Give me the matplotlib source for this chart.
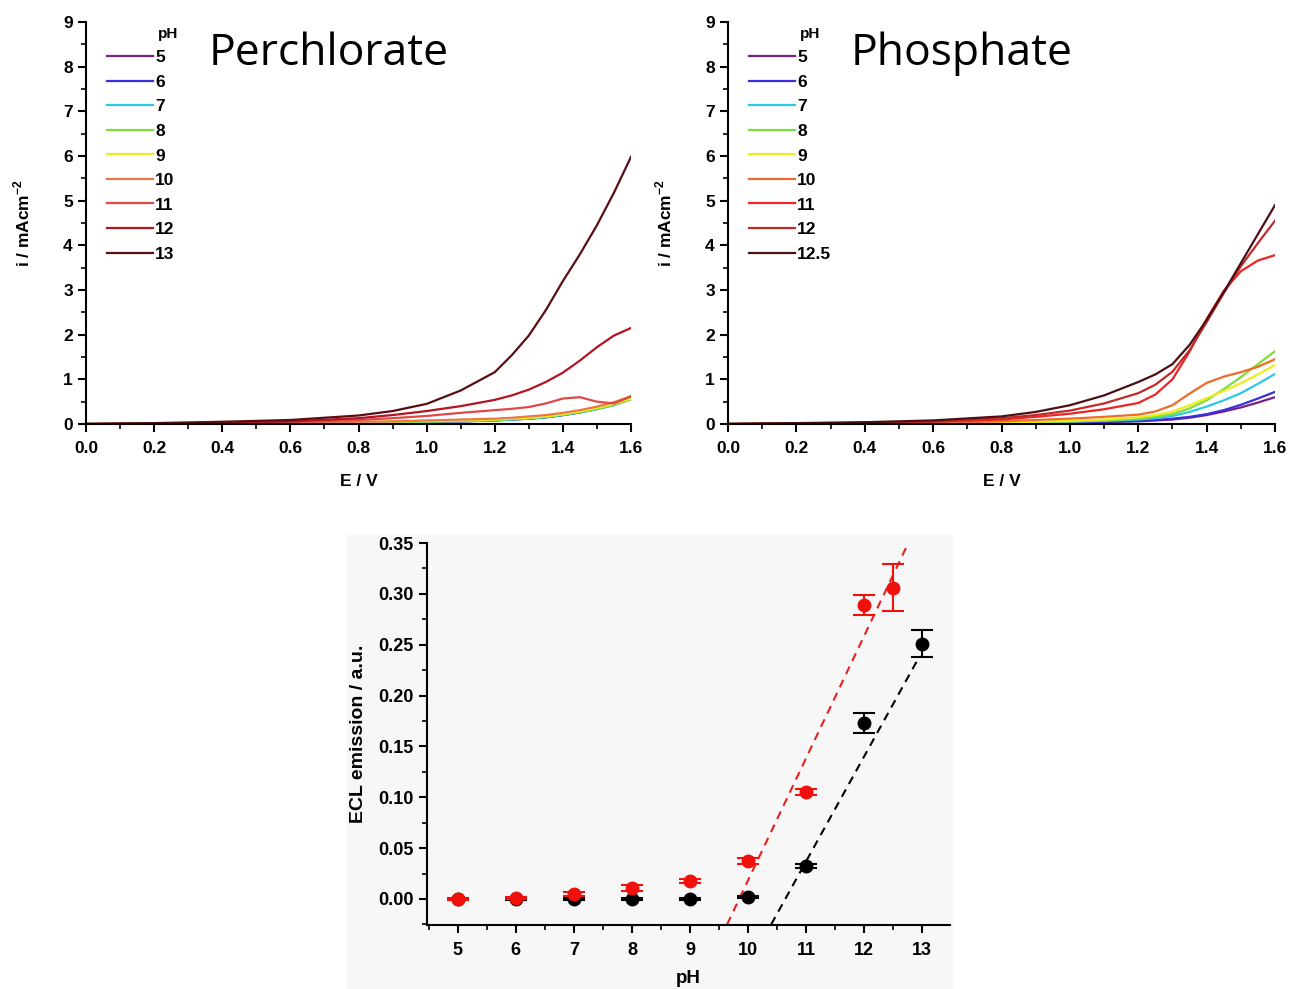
import matplotlib
matplotlib.use("Agg")
import matplotlib.pyplot as plt
from matplotlib.patches import Rectangle
from matplotlib.ticker import MultipleLocator, FormatStrFormatter

plt.rcParams['font.family'] = ['Liberation Sans', 'DejaVu Sans']
plt.rcParams['font.weight'] = 'bold'
plt.rcParams['mathtext.fontset'] = 'custom'
plt.rcParams['mathtext.bf'] = 'Liberation Sans:bold'
plt.rcParams['mathtext.rm'] = 'Liberation Sans:bold'

# potential grid (V) for the voltammograms
E = [0, 0.2, 0.4, 0.6, 0.8, 0.9, 1.0, 1.1, 1.2, 1.25, 1.3, 1.35, 1.4, 1.45, 1.5, 1.55, 1.6]

# perchlorate, current density (mA cm-2)
perc_labels = ['5', '6', '7', '8', '9', '10', '11', '12', '13']
perc_colors = ['#7a1f86', '#3a2fd8', '#2cc8e6', '#7ade3c', '#ecec1e', '#e87a48', '#e04848', '#b41420', '#5a0e14']
perc_5 = [0, 0, 0.01, 0.015, 0.025, 0.035, 0.045, 0.06, 0.08, 0.1, 0.12, 0.15, 0.2, 0.26, 0.34, 0.44, 0.58]
perc_6 = [0, 0, 0.01, 0.015, 0.025, 0.035, 0.045, 0.06, 0.08, 0.1, 0.12, 0.15, 0.2, 0.26, 0.34, 0.43, 0.57]
perc_7 = [0, 0.005, 0.01, 0.015, 0.03, 0.04, 0.05, 0.06, 0.08, 0.1, 0.12, 0.15, 0.2, 0.26, 0.33, 0.42, 0.56]
perc_8 = [0, 0.005, 0.01, 0.02, 0.03, 0.04, 0.05, 0.07, 0.09, 0.11, 0.13, 0.16, 0.21, 0.27, 0.34, 0.43, 0.55]
perc_9 = [0, 0.005, 0.01, 0.02, 0.04, 0.05, 0.07, 0.08, 0.1, 0.12, 0.14, 0.17, 0.22, 0.28, 0.36, 0.45, 0.57]
perc_10 = [0, 0.01, 0.02, 0.03, 0.05, 0.06, 0.08, 0.1, 0.12, 0.14, 0.17, 0.2, 0.25, 0.31, 0.39, 0.49, 0.62]
perc_11 = [0, 0.01, 0.02, 0.04, 0.09, 0.13, 0.18, 0.25, 0.31, 0.34, 0.38, 0.46, 0.57, 0.6, 0.5, 0.46, 0.62]
perc_12 = [0, 0.01, 0.03, 0.06, 0.13, 0.2, 0.29, 0.4, 0.54, 0.64, 0.77, 0.94, 1.15, 1.42, 1.72, 1.98, 2.15]
perc_13 = [0, 0.02, 0.05, 0.09, 0.19, 0.29, 0.45, 0.75, 1.16, 1.54, 1.98, 2.55, 3.2, 3.8, 4.45, 5.18, 5.98]
perc_curves = [perc_5, perc_6, perc_7, perc_8, perc_9, perc_10, perc_11, perc_12, perc_13]

# phosphate
phos_labels = ['5', '6', '7', '8', '9', '10', '11', '12', '12.5']
phos_colors = ['#7a1f86', '#3a2fd8', '#2cc8e6', '#7ade3c', '#ecec1e', '#f06a2a', '#ee2424', '#c02a2a', '#4a1014']
phos_5 = [0, 0, 0.005, 0.01, 0.02, 0.03, 0.035, 0.045, 0.06, 0.08, 0.1, 0.14, 0.2, 0.28, 0.37, 0.48, 0.6]
phos_6 = [0, 0, 0.005, 0.01, 0.02, 0.03, 0.04, 0.05, 0.07, 0.09, 0.12, 0.16, 0.22, 0.31, 0.43, 0.57, 0.72]
phos_7 = [0, 0.005, 0.01, 0.015, 0.03, 0.04, 0.05, 0.07, 0.1, 0.13, 0.18, 0.27, 0.39, 0.53, 0.69, 0.9, 1.12]
phos_8 = [0, 0.005, 0.01, 0.02, 0.03, 0.04, 0.06, 0.08, 0.12, 0.16, 0.22, 0.35, 0.53, 0.78, 1.05, 1.34, 1.63]
phos_9 = [0, 0.005, 0.01, 0.02, 0.04, 0.05, 0.07, 0.1, 0.15, 0.2, 0.28, 0.42, 0.58, 0.74, 0.91, 1.11, 1.32]
phos_10 = [0, 0.01, 0.02, 0.03, 0.06, 0.09, 0.12, 0.16, 0.21, 0.28, 0.42, 0.68, 0.92, 1.06, 1.16, 1.28, 1.45]
phos_11 = [0, 0.01, 0.02, 0.05, 0.1, 0.16, 0.23, 0.33, 0.47, 0.66, 1.0, 1.62, 2.35, 2.98, 3.42, 3.66, 3.78]
phos_12 = [0, 0.015, 0.03, 0.06, 0.13, 0.2, 0.3, 0.46, 0.69, 0.88, 1.17, 1.65, 2.28, 2.93, 3.53, 4.05, 4.55]
phos_125 = [0, 0.02, 0.04, 0.08, 0.17, 0.27, 0.42, 0.64, 0.94, 1.11, 1.34, 1.77, 2.33, 2.95, 3.6, 4.25, 4.9]
phos_curves = [phos_5, phos_6, phos_7, phos_8, phos_9, phos_10, phos_11, phos_12, phos_125]

# ECL emission vs pH
red_ph = [5, 6, 7, 8, 9, 10, 11, 12, 12.5]
red_ecl = [0.000, 0.001, 0.005, 0.011, 0.018, 0.037, 0.105, 0.289, 0.306]
red_err = [0.001, 0.001, 0.002, 0.003, 0.002, 0.003, 0.003, 0.010, 0.023]
black_ph = [5, 6, 7, 8, 9, 10, 11, 12, 13]
black_ecl = [0.000, 0.000, 0.000, 0.000, 0.000, 0.002, 0.032, 0.173, 0.251]
black_err = [0.001, 0.001, 0.001, 0.001, 0.001, 0.001, 0.002, 0.010, 0.013]
# linear fit lines (end points)
red_fit_x = [9.64, 12.72]
red_fit_y = [-0.025, 0.345]
black_fit_x = [10.40, 12.93]
black_fit_y = [-0.025, 0.236]

W, H = 1292, 989
fig = plt.figure(figsize=(W / 100, H / 100), dpi=100)

# faint grey background behind the bottom panel
fig.patches.append(Rectangle((347 / W, 0), (952 - 347) / W, 1 - 535 / H,
                             transform=fig.transFigure, color='#f7f7f7', zorder=-10))


def style_axes(ax, size=12.5):
    for s in ['top', 'right']:
        ax.spines[s].set_visible(False)
    for s in ['left', 'bottom']:
        ax.spines[s].set_linewidth(1.5)
    ax.tick_params(which='major', direction='out', length=6, width=1.5, labelsize=size)
    ax.tick_params(which='minor', direction='out', length=3.5, width=1.2)
    for lab in ax.get_xticklabels() + ax.get_yticklabels():
        lab.set_fontweight('bold')


def cv_panel(rect, curves, labels, colors, title):
    ax = fig.add_axes(rect)
    ax.patch.set_alpha(0)
    handles = []
    for y, lab, c in zip(curves, labels, colors):
        h, = ax.plot(E, y, color=c, lw=1.6, label=lab)
        handles.append(h)
    ax.set_xlim(0, 1.6)
    ax.set_ylim(0, 9)
    ax.xaxis.set_major_locator(MultipleLocator(0.2))
    ax.xaxis.set_minor_locator(MultipleLocator(0.1))
    ax.yaxis.set_major_locator(MultipleLocator(1))
    ax.yaxis.set_minor_locator(MultipleLocator(0.5))
    ax.xaxis.set_major_formatter(FormatStrFormatter('%.1f'))
    style_axes(ax)
    ax.tick_params(axis='x', which='major', pad=6)
    ax.set_xlabel('E / V', fontsize=12.5, fontweight='bold', labelpad=13)
    ax.set_ylabel(r'i / mAcm$^{\mathbf{-2}}$', fontsize=12.5, fontweight='bold', labelpad=22)
    leg = ax.legend(handles=handles, loc='upper left', bbox_to_anchor=(0.025, 0.947),
                    frameon=False, fontsize=12.5, handlelength=2.7, handletextpad=0.1,
                    labelspacing=0.54, borderaxespad=0)
    for t in leg.get_texts():
        t.set_fontweight('bold')
    ax.text(0.132, 0.97, 'pH', transform=ax.transAxes, fontsize=11, fontweight='bold',
            ha='left', va='center')
    ax.text(0.225, 0.92, title, transform=ax.transAxes, fontsize=32, fontweight='normal',
            family='Open Sans', ha='left', va='center')
    return ax


cv_panel([86 / W, 1 - 424 / H, (631 - 86) / W, 402 / H], perc_curves, perc_labels,
         perc_colors, 'Perchlorate')
cv_panel([728 / W, 1 - 424 / H, (1275 - 728) / W, 402 / H], phos_curves, phos_labels,
         phos_colors, 'Phosphate')

# bottom ECL panel
ax3 = fig.add_axes([427 / W, 1 - 925 / H, (950 - 427) / W, (925 - 543) / H])
ax3.patch.set_alpha(0)
ax3.plot(red_fit_x, red_fit_y, color='#e8201c', ls=(0, (4, 3)), lw=1.5, zorder=2)
ax3.plot(black_fit_x, black_fit_y, color='black', ls=(0, (4, 3)), lw=1.5, zorder=2)
ax3.errorbar(black_ph, black_ecl, yerr=black_err, fmt='o', color='black', ms=9,
             capsize=8, capthick=1.5, elinewidth=1.5, zorder=3)
ax3.errorbar(red_ph, red_ecl, yerr=red_err, fmt='o', color='#f0100c', ms=9,
             capsize=8, capthick=1.5, elinewidth=1.5, zorder=4)
ax3.set_xlim(4.47, 13.48)
ax3.set_ylim(-0.0256, 0.35)
ax3.xaxis.set_major_locator(MultipleLocator(1))
ax3.xaxis.set_minor_locator(MultipleLocator(0.5))
ax3.yaxis.set_major_locator(MultipleLocator(0.05))
ax3.yaxis.set_minor_locator(MultipleLocator(0.025))
ax3.yaxis.set_major_formatter(FormatStrFormatter('%.2f'))
style_axes(ax3, size=13)
ax3.tick_params(axis='x', which='major', pad=6)
ax3.set_xlabel('pH', fontsize=13.5, fontweight='bold', labelpad=8)
ax3.set_ylabel('ECL emission / a.u.', fontsize=14, fontweight='bold', labelpad=8)

fig.savefig('out.png', dpi=100)
